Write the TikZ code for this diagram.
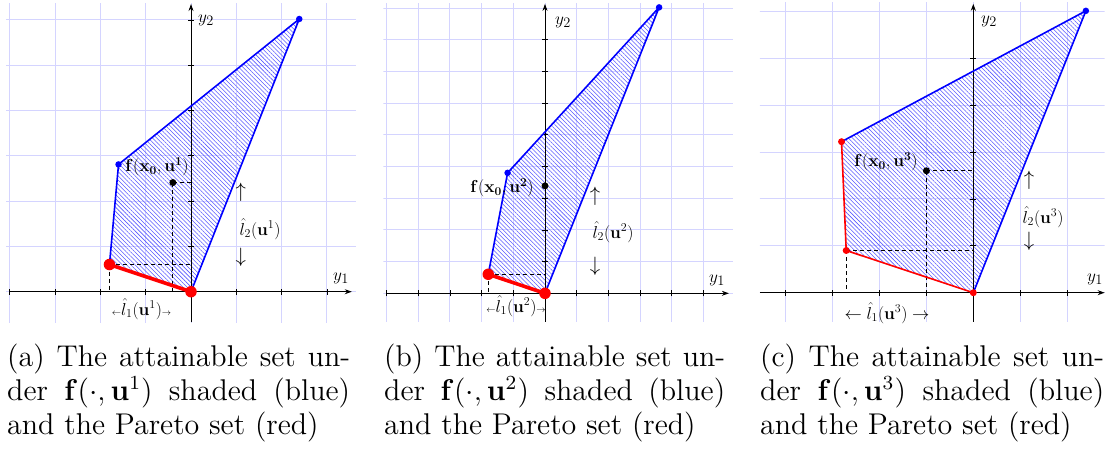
\documentclass[tikz,border=0pt]{standalone}
\usepackage{graphicx}
\usetikzlibrary{patterns.meta,arrows.meta}
\tikzset{
  gridl/.style={draw=blue!17, line width=0.9pt},
  axisl/.style={black, line width=0.9pt},
  axarrow/.style={-{Stealth[length=7pt,width=5pt]}},
  tickl/.style={black, line width=0.7pt},
  edgel/.style={blue, line width=1.6pt, line join=round},
  paretothick/.style={red, line width=3.6pt},
  paretothin/.style={red, line width=1.6pt, line join=round},
  hatch/.style={pattern={Lines[angle=-45,distance=3pt,line width=0.55pt]}, pattern color=blue!65},
  dashl/.style={black, dash pattern=on 4pt off 3pt, line width=1.2pt},
  bdot/.style={circle, fill=blue, inner sep=0pt, minimum size=6.5pt},
  rdotbig/.style={circle, fill=red, inner sep=0pt, minimum size=11.5pt},
  rdot/.style={circle, fill=red, inner sep=0pt, minimum size=7pt},
  kdot/.style={circle, fill=black, inner sep=0pt, minimum size=7pt},
  plab/.style={font=\fontsize{18}{20}\selectfont, inner sep=0pt},
  arlab/.style={font=\fontsize{22}{24}\selectfont, inner sep=0pt},
  axlab/.style={font=\fontsize{19}{21}\selectfont, inner sep=0pt},
  capline/.style={anchor=base west, inner sep=0pt, font=\fontsize{12}{14}\selectfont},
}
\newcommand{\tinyarr}[1]{{\fontsize{9}{9}\selectfont$#1$}}
\newcommand{\fbold}[1]{$\mathbf{f}(\mathbf{x}_{\mathbf{0}},\mathbf{u}^{\mathbf{#1}})$}
\newcommand{\capbox}[2]{\scalebox{2.5}{\makebox[#1][s]{#2}}}
\newcommand{\capnat}[1]{\scalebox{2.5}{#1}}
\begin{document}
\begin{tikzpicture}[x=1pt,y=-1pt]
\useasboundingbox (0,0) rectangle (1107,448);

% ================= Panel (a) =================
\begin{scope}[shift={(191,291.7)}, x=45.3pt, y=45.3pt]
  \begin{scope}
    \clip (-4.08,-0.67) rectangle (3.64,6.37);
    \draw[gridl, step=1] (-5,-1) grid (4,7);
  \end{scope}
  \coordinate (aO) at (0,0);
  \coordinate (aT) at (2.39,6.02);
  \coordinate (aB) at (-1.6,2.81);
  \coordinate (aR) at (-1.8,0.6);
  \coordinate (aK) at (-0.4,2.41);
  \coordinate (aXL) at (-4.0,0);
  \coordinate (aXR) at (3.55,0);
  \coordinate (aYB) at (0,-0.67);
  \coordinate (aYT) at (0,6.35);
  \fill[hatch] (aO) -- (aT) -- (aB) -- (aR) -- cycle;
  \draw[dashl] (aK) -- (aK |- aO);
  \draw[dashl] (aK) -- (aK -| aO);
  \draw[dashl] (aR) -- (aR -| aO);
  \draw[dashl] (aR) -- (aR |- aO);
  \draw[axisl,axarrow] (aXL) -- (aXR);
  \draw[axisl,axarrow] (aYB) -- (aYT);
  \foreach \i in {-4,-3,-2,-1,1,2,3} \draw[tickl] (\i,0) ++(0pt,-3pt) -- ++(0pt,6pt);
  \foreach \i in {1,...,6} \draw[tickl] (0,\i) ++(-3pt,0pt) -- ++(6pt,0pt);
  \draw[edgel] (aO) -- (aT) -- (aB) -- (aR);
  \draw[paretothick] (aR) -- (aO);
  \node[bdot] (aTd) at (aT) {};
  \node[bdot] (aBd) at (aB) {};
  \node[kdot] (aKd) at (aK) {};
  \node[rdotbig] (aRd) at (aR) {};
  \node[rdotbig] (aOd) at (aO) {};
\end{scope}
\node[axlab] (ay2) at (206,20) {$y_2$};
\node[axlab] (ay1) at (341,278) {$y_1$};
\node[plab] (af) at (157,167) {\fbold{1}};
\node[arlab] (aup) at (240.7,192) {$\uparrow$};
\node[plab] (al2) at (260,229) {$\hat{l}_2(\mathbf{u}^1)$};
\node[arlab] (adn) at (240.7,257) {$\downarrow$};
\node[plab] (al1) at (141.5,309) {\tinyarr{\leftarrow}$\hat{l}_1(\mathbf{u}^1)$\tinyarr{\rightarrow}};

% ================= Panel (b) =================
\begin{scope}[shift={(545,293.3)}, x=31.7pt, y=31.7pt]
  \begin{scope}
    \clip (-5.1,-0.9) rectangle (5.93,9.15);
    \draw[gridl, step=1] (-6,-1) grid (6,10);
  \end{scope}
  \coordinate (bO) at (0,0);
  \coordinate (bT) at (3.6,9.02);
  \coordinate (bB) at (-1.18,3.8);
  \coordinate (bR) at (-1.79,0.6);
  \coordinate (bK) at (0,3.39);
  \coordinate (bXL) at (-5.0,0);
  \coordinate (bXR) at (5.8,0);
  \coordinate (bYB) at (0,-0.9);
  \coordinate (bYT) at (0,9.13);
  \fill[hatch] (bO) -- (bT) -- (bB) -- (bR) -- cycle;
  \draw[dashl] (bR) -- (bR -| bO);
  \draw[dashl] (bR) -- (bR |- bO);
  \draw[axisl,axarrow] (bXL) -- (bXR);
  \draw[axisl,axarrow] (bYB) -- (bYT);
  \foreach \i in {-5,-4,-3,-2,-1,1,2,3,4,5} \draw[tickl] (\i,0) ++(0pt,-3pt) -- ++(0pt,6pt);
  \foreach \i in {1,...,8} \draw[tickl] (0,\i) ++(-3pt,0pt) -- ++(6pt,0pt);
  \draw[edgel] (bO) -- (bT) -- (bB) -- (bR);
  \draw[paretothick] (bR) -- (bO);
  \node[bdot] (bTd) at (bT) {};
  \node[bdot] (bBd) at (bB) {};
  \node[kdot] (bKd) at (bK) {};
  \node[rdotbig] (bRd) at (bR) {};
  \node[rdotbig] (bOd) at (bO) {};
\end{scope}
\node[axlab] (by2) at (563,22) {$y_2$};
\node[axlab] (by1) at (717,280) {$y_1$};
\node[plab] (bf) at (502,188) {\fbold{2}};
\node[arlab] (bup) at (595,196) {$\uparrow$};
\node[plab] (bl2) at (613,232) {$\hat{l}_2(\mathbf{u}^2)$};
\node[arlab] (bdn) at (595,266) {$\downarrow$};
\node[plab] (bl1) at (516,306) {\tinyarr{\leftarrow}$\hat{l}_1(\mathbf{u}^2)$\tinyarr{\rightarrow}};

% ================= Panel (c) =================
\begin{scope}[shift={(973.3,292.7)}, x=46.9pt, y=46.9pt]
  \begin{scope}
    \clip (-4.55,-0.62) rectangle (2.8,6.18);
    \draw[gridl, step=1] (-5,-1) grid (3,7);
  \end{scope}
  \coordinate (cO) at (0,0);
  \coordinate (cT) at (2.4,6.01);
  \coordinate (cU) at (-2.81,3.22);
  \coordinate (cL) at (-2.71,0.9);
  \coordinate (cK) at (-1.0,2.6);
  \coordinate (cXL) at (-4.55,0);
  \coordinate (cXR) at (2.8,0);
  \coordinate (cYB) at (0,-0.62);
  \coordinate (cYT) at (0,6.16);
  \fill[hatch] (cO) -- (cT) -- (cU) -- (cL) -- cycle;
  \draw[dashl] (cK) -- (cK |- cO);
  \draw[dashl] (cK) -- (cK -| cO);
  \draw[dashl] (cL) -- (cL -| cO);
  \draw[dashl] (cL) -- (cL |- cO);
  \draw[axisl,axarrow] (cXL) -- (cXR);
  \draw[axisl,axarrow] (cYB) -- (cYT);
  \foreach \i in {-4,-3,-2,-1,1,2} \draw[tickl] (\i,0) ++(0pt,-3pt) -- ++(0pt,6pt);
  \foreach \i in {1,...,5} \draw[tickl] (0,\i) ++(-3pt,0pt) -- ++(6pt,0pt);
  \draw[edgel] (cO) -- (cT) -- (cU);
  \draw[paretothin] (cU) -- (cL) -- (cO);
  \node[bdot] (cTd) at (cT) {};
  \node[kdot] (cKd) at (cK) {};
  \node[rdot] (cUd) at (cU) {};
  \node[rdot] (cLd) at (cL) {};
  \node[rdot] (cOd) at (cO) {};
\end{scope}
\node[axlab] (cy2) at (989,21) {$y_2$};
\node[axlab] (cy1) at (1095,279) {$y_1$};
\node[plab] (cf) at (886,162) {\fbold{3}};
\node[arlab] (cup) at (1029,180) {$\uparrow$};
\node[plab] (cl2) at (1043,217) {$\hat{l}_2(\mathbf{u}^3)$};
\node[arlab] (cdn) at (1029,241) {$\downarrow$};
\node[plab] (cl1) at (887,313) {$\leftarrow\hat{l}_1(\mathbf{u}^3)\rightarrow$};

% ================= Captions =================
\node[capline] (ca1) at (7,366) {\capbox{137.2pt}{(a) The attainable set un-}};
\node[capline] (ca2) at (7,400) {\capbox{137.2pt}{der $\mathbf{f}(\cdot,\mathbf{u}^1)$ shaded (blue)}};
\node[capline] (ca3) at (7,434) {\capnat{and the Pareto set (red)}};
\node[capline] (cb1) at (384,366) {\capbox{136.4pt}{(b) The attainable set un-}};
\node[capline] (cb2) at (384,400) {\capbox{136.4pt}{der $\mathbf{f}(\cdot,\mathbf{u}^2)$ shaded (blue)}};
\node[capline] (cb3) at (384,434) {\capnat{and the Pareto set (red)}};
\node[capline] (cc1) at (760,366) {\capbox{137.6pt}{(c) The attainable set un-}};
\node[capline] (cc2) at (760,400) {\capbox{137.6pt}{der $\mathbf{f}(\cdot,\mathbf{u}^3)$ shaded (blue)}};
\node[capline] (cc3) at (760,434) {\capnat{and the Pareto set (red)}};
\end{tikzpicture}
\end{document}
